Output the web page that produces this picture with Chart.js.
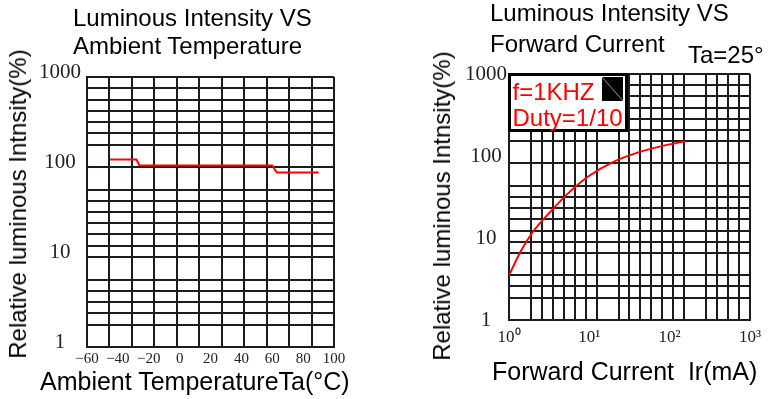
<!DOCTYPE html>
<html>
<head>
<meta charset="utf-8">
<script src="https://cdn.jsdelivr.net/npm/chart.js@4.4.1/dist/chart.umd.min.js"></script>
<style>
  body { margin: 0; background: #fff; }
  #wrap { position: relative; width: 768px; height: 399px; overflow: hidden; }
  canvas { position: absolute; top: 0; }
  .txt { position: absolute; font-family: 'Liberation Sans', Arial, sans-serif; font-size: 24px; line-height: 28px; color: #000; white-space: pre; }
  .vert { transform: translate(-50%, -50%) rotate(-90deg); }
</style>
</head>
<body>
<div id="wrap">
  <canvas id="tempChart" width="420" height="399" style="left:0"></canvas>
  <canvas id="currentChart" width="348" height="399" style="left:420px"></canvas>

  <div class="txt" style="left:73px;top:4px">Luminous Intensity VS<br>Ambient Temperature</div>
  <div class="txt" style="left:490px;top:-3px;line-height:31px">Luminous Intensity VS<br>Forward Current</div>
  <div class="txt" style="left:688px;top:41px">Ta=25°</div>

  <div class="txt vert" style="left:18px;top:204px">Relative luminous Intnsity(%)</div>
  <div class="txt vert" style="left:442px;top:206px">Relative luminous Intnsity(%)</div>
  <div class="txt" style="left:40px;top:367px;font-size:25px">Ambient TemperatureTa(°C)</div>
  <div class="txt" style="left:492px;top:357px;font-size:25px">Forward Current  Ir(mA)</div>
</div>

<script>
// left chart: relative intensity vs ambient temperature
const tempC = [-45, -28, -26, 60, 63, 90];
const tempIntensity = [121, 121, 104, 104, 87, 87];
const tempTicks = [-60, -40, -20, 0, 20, 40, 60, 80, 100];
const tempLabels = tempTicks.map(t => t < 0 ? '\u2212' + (-t) : String(t));

// right chart: relative intensity vs forward current
const currentMA = [1, 1.4, 2, 3.2, 5.6, 10, 20, 40, 80, 155];
const currentIntensity = [3.5, 6.9, 12, 20.4, 36, 57.5, 85, 110, 132, 151];

const decadeTicks = [1, 10, 100, 1000];
const decadeLabels = ['1', '10', '100', '1000'];
const powerLabels = ['10\u2070', '10\u00b9', '10\u00b2', '10\u00b3'];
const noteLines = ['f=1KHZ', 'Duty=1/10'];

const GRID = '#1c1c1c';
const RED = '#ff0000';

// the printed grids are not true log grids, so the lines sit on even steps
const leftGridX = [];
for (let k = 0; k <= 11; k++) leftGridX.push(-60 + 160 * k / 11);
const leftGridY = [0, 1, 2, 3, 4, 5, 6, 8, 10, 11, 12, 13, 14, 15, 16, 18, 19, 20, 21, 22, 24]
  .map(u => 1000 / Math.pow(10, u / 8));
const rightGridX = [0, 2, 3, 4, 5, 6, 7, 8, 10, 11, 12, 13, 14, 15, 16, 18, 19, 20, 21, 22]
  .map(u => Math.pow(10, 3 * u / 22));
const rightGridY = [0, 1, 2, 3, 4, 5, 6, 8, 10, 11, 12, 13, 14, 15, 16, 18, 19, 20, 22]
  .map(u => Math.pow(10, 3 * (22 - u) / 22));

// grid ticks draw a line, label ticks only carry text
function setTicks(gridVals, labelVals, labelText) {
  return function (scale) {
    const ticks = gridVals.map(v => ({ value: v, grid: true, text: '' }));
    labelVals.forEach((v, i) => {
      const hit = ticks.find(t => Math.abs(t.value - v) < 1e-6 * Math.abs(v || 1));
      if (hit) hit.text = labelText[i];
      else ticks.push({ value: v, grid: false, text: labelText[i] });
    });
    ticks.sort((a, b) => a.value - b.value);
    scale.ticks = ticks;
  };
}

const gridColor = c => (c.tick && c.tick.grid) ? GRID : 'rgba(0,0,0,0)';
const tickText = (v, i, ticks) => ticks[i].text;

function axis(type, min, max, fit, build, tickOpts) {
  return {
    type: type,
    min: min,
    max: max,
    afterFit: fit,
    afterBuildTicks: build,
    grid: { color: gridColor, lineWidth: 2, drawTicks: false },
    border: { color: GRID, width: 2 },
    ticks: Object.assign({
      autoSkip: false,
      maxRotation: 0,
      minRotation: 0,
      color: '#222',
      callback: tickText
    }, tickOpts)
  };
}

// framed note in the upper left of the current chart
const noteBox = {
  id: 'noteBox',
  afterDraw(chart) {
    if (chart.canvas.id !== 'currentChart') return;
    const { ctx, chartArea: a } = chart;
    const bx = a.left - 1, by = a.top - 1, bw = 120, bh = 59;
    ctx.save();
    ctx.fillStyle = '#fff';
    ctx.fillRect(bx, by, bw, bh);
    ctx.fillStyle = '#000';
    ctx.fillRect(bx + 94, by + 4, 21, 24);
    ctx.strokeStyle = '#9a9a9a';
    ctx.lineWidth = 1;
    ctx.beginPath();
    ctx.moveTo(bx + 94, by + 4);
    ctx.lineTo(bx + 115, by + 28);
    ctx.stroke();
    ctx.strokeStyle = '#000';
    ctx.lineWidth = 3;
    ctx.strokeRect(bx + 1.5, by + 1.5, bw - 3, bh - 3);
    ctx.fillStyle = RED;
    ctx.font = '24px "Liberation Sans", Arial, sans-serif';
    ctx.fillText(noteLines[0], bx + 4.5, by + 26.5);
    ctx.fillText(noteLines[1], bx + 4.5, by + 53);
    ctx.restore();
  }
};

new Chart(document.getElementById('tempChart'), {
  type: 'line',
  data: {
    datasets: [{
      data: tempC.map((t, i) => ({ x: t, y: tempIntensity[i] })),
      borderColor: RED,
      borderWidth: 2,
      pointRadius: 0,
      tension: 0
    }]
  },
  options: {
    responsive: false,
    animation: false,
    devicePixelRatio: 1,
    layout: { padding: { top: 77, right: 86, bottom: 0, left: 0 } },
    plugins: { legend: { display: false }, tooltip: { enabled: false } },
    scales: {
      x: axis('linear', -60, 100, s => { s.height = 52; },
        setTicks(leftGridX, tempTicks, tempLabels),
        { padding: 3, font: { family: 'Liberation Serif', size: 15 } }),
      y: axis('logarithmic', 1, 1000, s => { s.width = 87; },
        setTicks(leftGridY, decadeTicks, decadeLabels),
        { padding: 6, crossAlign: 'center', labelOffset: -5, font: { family: 'Liberation Serif', size: 21 } })
    }
  }
});

new Chart(document.getElementById('currentChart'), {
  type: 'line',
  data: {
    datasets: [{
      data: currentMA.map((c, i) => ({ x: c, y: currentIntensity[i] })),
      borderColor: RED,
      borderWidth: 2,
      pointRadius: 0,
      cubicInterpolationMode: 'monotone'
    }]
  },
  options: {
    responsive: false,
    animation: false,
    devicePixelRatio: 1,
    layout: { padding: { top: 74, right: 13, bottom: 0, left: 0 } },
    plugins: { legend: { display: false }, tooltip: { enabled: false } },
    scales: {
      x: axis('logarithmic', 1, 1000, s => { s.height = 79; },
        setTicks(rightGridX, decadeTicks, powerLabels),
        { padding: 7, font: { family: 'Liberation Serif', size: 17 } }),
      y: axis('logarithmic', 1, 1000, s => { s.width = 89; },
        setTicks(rightGridY, decadeTicks, decadeLabels),
        { padding: 2, crossAlign: 'center', font: { family: 'Liberation Serif', size: 21 } })
    }
  },
  plugins: [noteBox]
});
</script>
</body>
</html>
